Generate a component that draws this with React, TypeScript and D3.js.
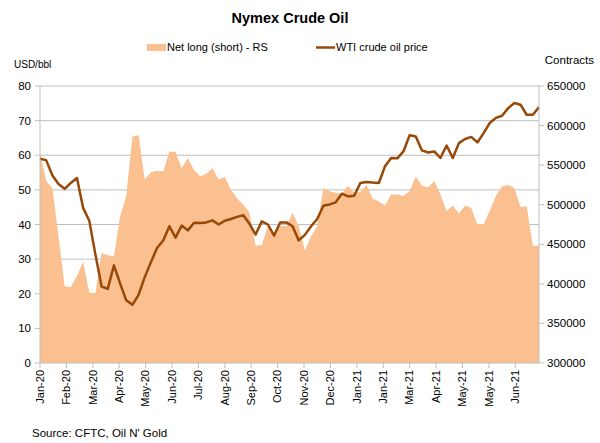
import React from "react";
import * as d3 from "d3";

// Weekly CFTC report dates start on 7 Jan 2020
const startDate = new Date(Date.UTC(2020, 0, 7));

const wtiPrice: number[] = [
  59.0, 58.6, 54.2, 51.7, 50.3, 52.0, 53.4, 44.8, 41.1, 31.3,
  22.1, 21.4, 28.2, 23.0, 18.1, 16.8, 19.7, 24.8, 29.1, 33.2,
  35.4, 39.5, 36.2, 39.7, 38.3, 40.5, 40.4, 40.6, 41.2, 40.0,
  41.1, 41.6, 42.2, 42.7, 40.2, 37.1, 40.9, 40.0, 36.8, 40.6,
  40.6, 39.5, 35.4, 37.0, 39.5, 41.6, 45.4, 45.8, 46.4, 48.9,
  48.1, 48.3, 52.0, 52.3, 52.1, 52.0, 56.8, 59.2, 59.1, 61.1,
  65.8, 65.4, 61.4, 60.8, 61.1, 59.2, 62.8, 59.2, 63.5, 64.7,
  65.3, 63.7, 66.4, 69.3, 70.8, 71.4, 73.6, 75.1, 74.6, 71.7,
  71.7, 73.9,
];

const netLong: number[] = [
  567000, 530000, 521000, 460000, 397000, 396000, 410000, 428000, 389000, 388000,
  439000, 436000, 435000, 485000, 511000, 586000, 588000, 532000, 541000, 543000,
  542000, 567000, 567000, 546000, 559000, 544000, 536000, 539000, 546000, 532000,
  535000, 519000, 508000, 500000, 490000, 448000, 449000, 473000, 464000, 473000,
  473000, 490000, 473000, 442000, 460000, 473000, 521000, 517000, 515000, 514000,
  524000, 515000, 516000, 525000, 508000, 504000, 499000, 513000, 513000, 511000,
  517000, 536000, 524000, 522000, 530000, 513000, 492000, 499000, 489000, 499000,
  496000, 475000, 475000, 492000, 511000, 523000, 525000, 521000, 497000, 498000,
  448000, 448000,
];

const xTickLabels: string[] = [
  "Jan-20", "Feb-20", "Mar-20", "Apr-20", "May-20", "Jun-20", "Jul-20", "Aug-20",
  "Sep-20", "Oct-20", "Nov-20", "Dec-20", "Jan-21", "Jan-21", "Mar-21", "Apr-21",
  "May-21", "May-21", "Jun-21",
];
const leftTicks: number[] = [0, 10, 20, 30, 40, 50, 60, 70, 80];
const rightTicks: number[] = [300000, 350000, 400000, 450000, 500000, 550000, 600000, 650000];

const FONT = "'Liberation Sans', Arial, sans-serif";
const AREA_COLOR = "#FAC090";
const LINE_COLOR = "#984807";
const GRID = "#BFBFBF";

export default function App() {
  const W = 600, H = 443;
  const left = 40, right = 539, top = 86, bottom = 363;

  const dates = wtiPrice.map((_, i) => d3.utcDay.offset(startDate, 7 * i));
  const x = d3.scaleUtc().domain([dates[0], dates[dates.length - 1]]).range([left, right]);
  const yL = d3.scaleLinear().domain([0, 80]).range([bottom, top]);
  const yR = d3.scaleLinear().domain([300000, 650000]).range([bottom, top]);

  const tickDates = xTickLabels.map((_, k) => d3.utcDay.offset(startDate, 30 * k));

  const areaPath = d3.area<number>()
    .x((_, i) => x(dates[i]))
    .y0(yR(300000))
    .y1((d) => yR(d))(netLong) || "";
  const linePath = d3.line<number>()
    .x((_, i) => x(dates[i]))
    .y((d) => yL(d))(wtiPrice) || "";

  return (
    <svg width={W} height={H} style={{ position: "absolute", left: 0, top: 0, background: "#fff" }} fontFamily={FONT}>
      <rect x={0} y={0} width={W} height={H} fill="#fff" />
      <text x={290} y={23} textAnchor="middle" fontSize={14.5} fontWeight="bold" fill="#000">Nymex Crude Oil</text>

      {/* legend */}
      <rect x={147} y={44} width={19} height={7} fill={AREA_COLOR} />
      <text x={167} y={51} fontSize={11} fill="#000">Net long (short) - RS</text>
      <line x1={316} x2={335} y1={47.5} y2={47.5} stroke={LINE_COLOR} strokeWidth={2.5} />
      <text x={336} y={51} fontSize={11} fill="#000">WTI crude oil price</text>

      <text x={14} y={68} fontSize={10} fill="#000">USD/bbl</text>
      <text x={594} y={64} textAnchor="end" fontSize={11.5} fill="#000">Contracts</text>

      {/* gridlines */}
      {leftTicks.filter((t) => t > 0).map((t) => (
        <line key={"g" + t} x1={left} x2={right} y1={yL(t)} y2={yL(t)} stroke={GRID} strokeWidth={1} />
      ))}

      <path d={areaPath} fill={AREA_COLOR} />
      <path d={linePath} fill="none" stroke={LINE_COLOR} strokeWidth={2.5} strokeLinejoin="round" />

      {/* axes */}
      <line x1={left} x2={left} y1={top} y2={bottom} stroke={GRID} />
      <line x1={right} x2={right} y1={top} y2={bottom} stroke={GRID} />
      <line x1={left} x2={right} y1={bottom} y2={bottom} stroke={GRID} />

      {leftTicks.map((t) => (
        <g key={"l" + t}>
          <line x1={left - 5} x2={left} y1={yL(t)} y2={yL(t)} stroke={GRID} />
          <text x={31} y={yL(t)} dy="0.35em" textAnchor="end" fontSize={11.5} fill="#000">{t}</text>
        </g>
      ))}
      {rightTicks.map((t) => (
        <g key={"r" + t}>
          <line x1={right} x2={right + 5} y1={yR(t)} y2={yR(t)} stroke={GRID} />
          <text x={547} y={yR(t)} dy="0.35em" textAnchor="start" fontSize={11.5} fill="#000">{t}</text>
        </g>
      ))}
      {tickDates.map((d, k) => (
        <g key={"x" + k}>
          <line x1={x(d)} x2={x(d)} y1={bottom} y2={bottom + 5} stroke={GRID} />
          <text transform={`translate(${x(d)},${bottom + 7}) rotate(-90)`} dy="0.35em" textAnchor="end" fontSize={11} fill="#000">{xTickLabels[k]}</text>
        </g>
      ))}

      <text x={32} y={437} fontSize={11.5} fill="#000">Source: CFTC, Oil N' Gold</text>
    </svg>
  );
}
